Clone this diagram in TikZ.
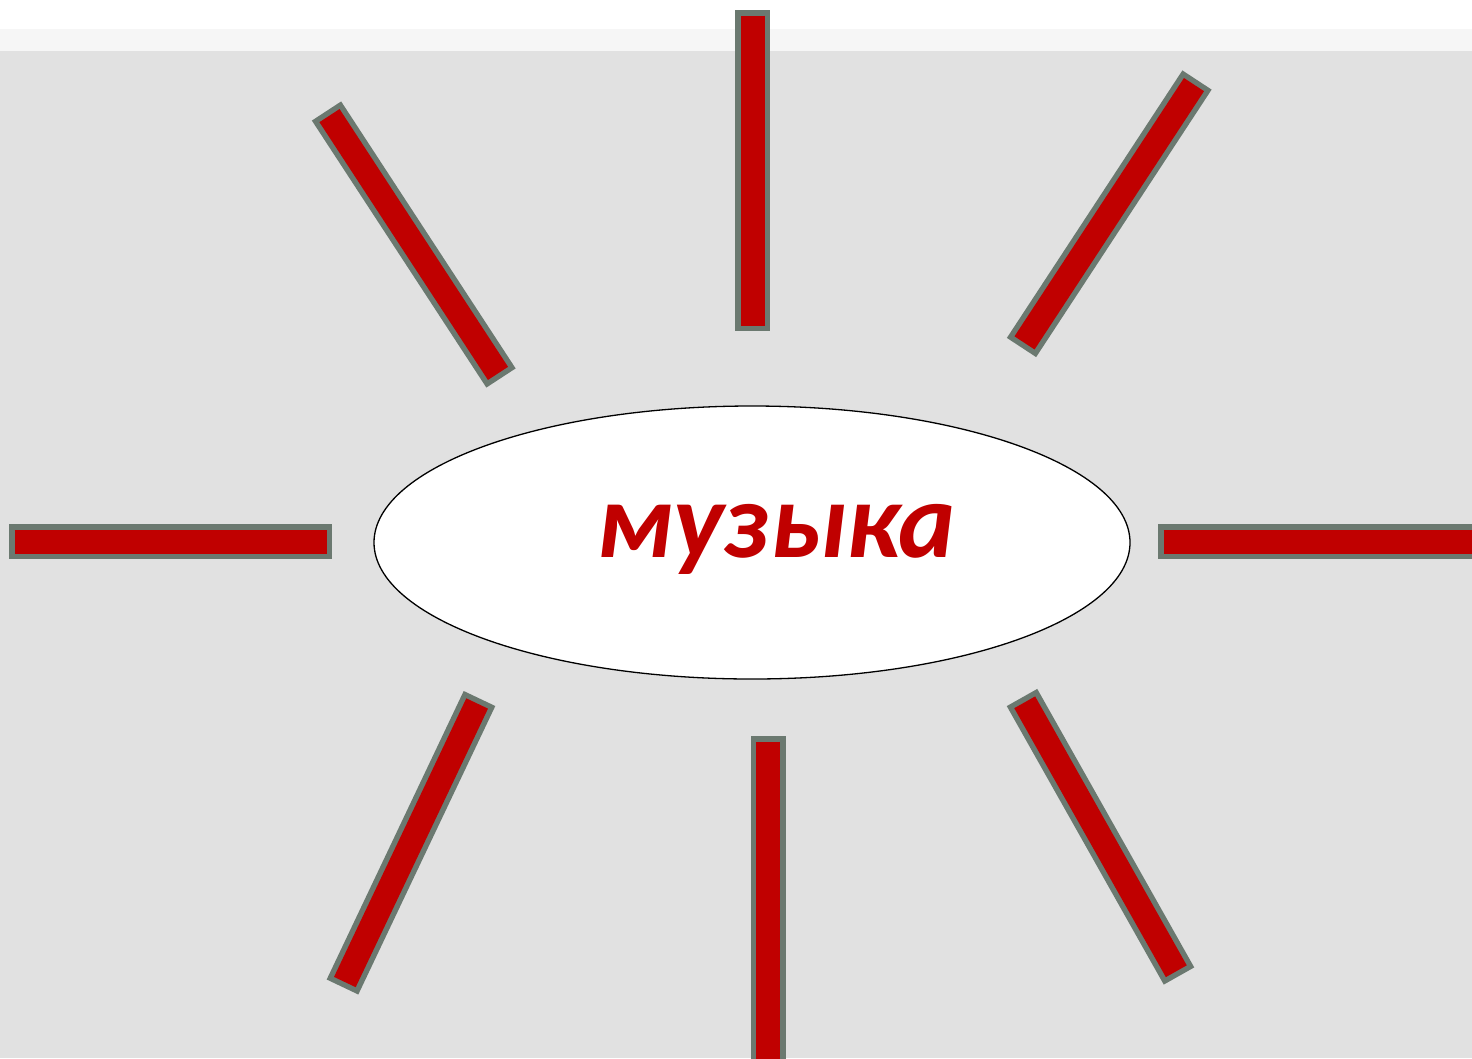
\documentclass[tikz,border=0pt]{standalone}
\usepackage{fontspec}
\setmainfont{Carlito}
\usetikzlibrary{shapes.geometric}
\definecolor{barred}{HTML}{C00000}
\definecolor{bargray}{HTML}{6B7970}
\definecolor{bggray}{HTML}{E1E1E1}
\definecolor{bgband}{HTML}{F6F6F6}
\tikzset{
  barouter/.style={draw=bargray,line width=35pt,line cap=butt},
  barinner/.style={draw=barred,line width=24pt,line cap=butt,shorten <=5.5pt,shorten >=5.5pt},
}
\newcommand{\sunbar}[2]{\draw[barouter] (#1) -- (#2); \draw[barinner] (#1) -- (#2);}
\begin{document}
\begin{tikzpicture}[x=1pt,y=-1pt]
\useasboundingbox (0,0) rectangle (1472,1058);
\fill[white] (0,0) rectangle (1472,29);
\fill[bgband] (0,29) rectangle (1472,51);
\fill[bggray] (0,51) rectangle (1472,1058);
% bar end points
\coordinate (n1) at (752.5,10);   \coordinate (n2) at (752.5,331);
\coordinate (nw1) at (326.5,111); \coordinate (nw2) at (501,378);
\coordinate (ne1) at (1197,80);   \coordinate (ne2) at (1021.5,347.5);
\coordinate (w1) at (9,541.5);    \coordinate (w2) at (332,541.5);
\coordinate (e1) at (1158,541.5); \coordinate (e2) at (1490,541.5);
\coordinate (sw1) at (479.5,698.5); \coordinate (sw2) at (342.5,987);
\coordinate (s1) at (768,736);    \coordinate (s2) at (768,1075);
\coordinate (se1) at (1022,697.5); \coordinate (se2) at (1179,976);
\sunbar{n1}{n2}
\sunbar{nw1}{nw2}
\sunbar{ne1}{ne2}
\sunbar{w1}{w2}
\sunbar{e1}{e2}
\sunbar{sw1}{sw2}
\sunbar{s1}{s2}
\sunbar{se1}{se2}
\node (sun) [draw=black,line width=1.3pt,fill=white,ellipse,minimum width=756pt,minimum height=273pt,inner sep=0pt] at (752,542.5) {};
\node (lbl) [anchor=base,inner sep=0pt,text=barred,font=\fontsize{108}{112}\selectfont\bfseries\itshape] at (776,557) {музыка};
\end{tikzpicture}
\end{document}
